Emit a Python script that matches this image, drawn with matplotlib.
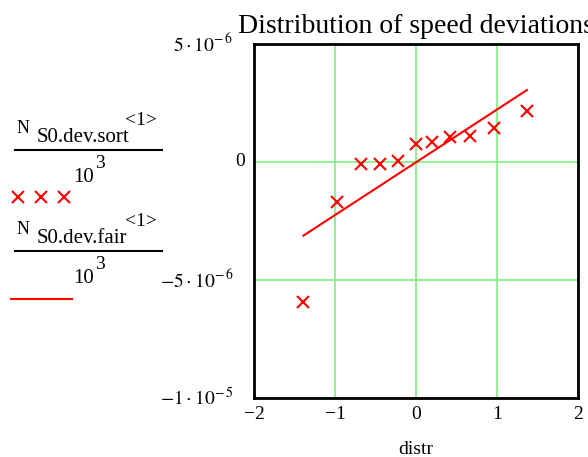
import matplotlib
matplotlib.use("Agg")
import matplotlib.pyplot as plt
import matplotlib.transforms as mtransforms
from matplotlib.lines import Line2D

plt.rcParams['font.family'] = ['Liberation Serif', 'DejaVu Serif']
plt.rcParams['mathtext.fontset'] = 'stix'

# sorted speed deviations vs. normal quantiles
distr = [-1.39, -0.97, -0.68, -0.44, -0.22, 0.0, 0.2, 0.42, 0.67, 0.96, 1.37]
dev_sort = [-5.95e-6, -1.71e-6, -0.08e-6, -0.08e-6, 0.04e-6, 0.78e-6,
            0.86e-6, 1.06e-6, 1.09e-6, 1.44e-6, 2.16e-6]
# fitted normal line
fair_x = [-1.39, 1.37]
fair_y = [-3.12e-6, 3.05e-6]

xticks = [-2, -1, 0, 1, 2]
xticklabels = ['\u22122', '\u22121', '0', '1', '2']
yticks = [5e-6, 0, -5e-6, -1e-5]
yticklabels = [r'$5\cdot10^{-\,6}$', '0', r'$-5\cdot10^{-\,6}$', r'$-1\cdot10^{-\,5}$']

W, H = 588, 457
fig = plt.figure(figsize=(W / 100, H / 100), dpi=100)
ax = fig.add_axes([254 / W, 1 - 398 / H, (578 - 254) / W, (398 - 44) / H])

ax.plot(distr, dev_sort, 'x', color='red', markersize=9, markeredgewidth=1.5)
ax.plot(fair_x, fair_y, '-', color='red', linewidth=1.5)

ax.set_xlim(-2, 2)
ax.set_ylim(-1e-5, 5e-6)
ax.set_xticks(xticks)
ax.set_xticklabels(xticklabels, fontsize=14)
ax.set_yticks(yticks)
ax.set_yticklabels([])
ax.tick_params(length=0, pad=6)
ax.grid(True, color='#80ee80', linewidth=1.2)
for s in ax.spines.values():
    s.set_linewidth(2)
ax.set_xlabel('distr', fontsize=14, labelpad=13)

# y tick labels, Mathcad style (exponent labels sit further left than "0")
trans = mtransforms.blended_transform_factory(fig.transFigure, ax.transData)
for val, lab in zip(yticks, yticklabels):
    xr = 245 if lab == '0' else 233
    ax.text(xr / W, val, lab, transform=trans, fontsize=14, ha='right', va='center')

fig.text(238 / W, 1 - 33 / H, 'Distribution of speed deviations', fontsize=20,
         va='baseline', ha='left')


def fx(x):
    return x / W


def fy(y):
    return 1 - y / H


# legend in Mathcad style
for off, name in [(0, 'S0.dev.sort'), (101, 'S0.dev.fair')]:
    fig.text(fx(17), fy(133 + off), 'N', fontsize=13, va='baseline')
    fig.text(fx(37), fy(142 + off), name, fontsize=15, va='baseline')
    fig.text(fx(125), fy(125 + off), '<1>', fontsize=14, va='baseline')
    fig.add_artist(Line2D([fx(15), fx(162)], [fy(150 + off)] * 2, color='black', lw=1.5))
    fig.text(fx(73), fy(182 + off), '10', fontsize=15, va='baseline')
    fig.text(fx(95), fy(168 + off), '3', fontsize=14, va='baseline')

fig.add_artist(Line2D([fx(17.5), fx(41), fx(64)], [fy(197)] * 3, color='red', marker='x',
                      linestyle='none', markersize=9, markeredgewidth=1.5))
fig.add_artist(Line2D([fx(11), fx(72)], [fy(299)] * 2, color='red', lw=1.5))

fig.savefig('out.png', dpi=100)
